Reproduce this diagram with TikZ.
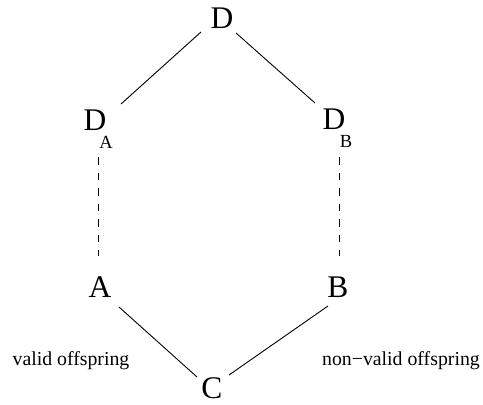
\documentclass[tikz,border=0pt]{standalone}
\usepackage{fontspec}
\setmainfont{Liberation Serif}
\begin{document}
\begin{tikzpicture}[x=1pt,y=-1pt,
  big/.style={inner sep=0pt, font=\fontsize{31.5}{31.5}\selectfont},
  sub/.style={inner sep=0pt, font=\fontsize{18.5}{18.5}\selectfont},
  lbl/.style={inner sep=0pt, font=\fontsize{19.8}{20}\selectfont},
  edge/.style={line width=0.9pt},
  dashedge/.style={line width=0.9pt, dash pattern=on 7.5pt off 8pt}]
\useasboundingbox (0,0) rectangle (483,405);
\node[big] (D) at (222,18) {D};
\node[big] (DA) at (95,120) {D};
\node[sub] (sA) at (106,142) {A};
\node[big] (DB) at (334,119) {D};
\node[sub] (sB) at (346,141) {B};
\node[big] (A) at (100,287) {A};
\node[big] (B) at (338,287) {B};
\node[big] (C) at (212,388) {C};
\node[lbl] (v) at (71,361) {valid offspring};
\node[lbl] (nv) at (401,361) {non−valid offspring};
\draw[edge] ([shift={(-21,14)}]D.center) -- ([shift={(26,-16)}]DA.center);
\draw[edge] ([shift={(14,15)}]D.center) -- ([shift={(-19,-16)}]DB.center);
\draw[dashedge] ([shift={(3.5,37)}]DA.center) -- ([shift={(-1.5,-31)}]A.center);
\draw[dashedge] ([shift={(5,38)}]DB.center) -- ([shift={(1,-31)}]B.center);
\draw[edge] ([shift={(19,20)}]A.center) -- ([shift={(-15,-11)}]C.center);
\draw[edge] ([shift={(-10,19)}]B.center) -- ([shift={(17,-13)}]C.center);
\end{tikzpicture}
\end{document}
